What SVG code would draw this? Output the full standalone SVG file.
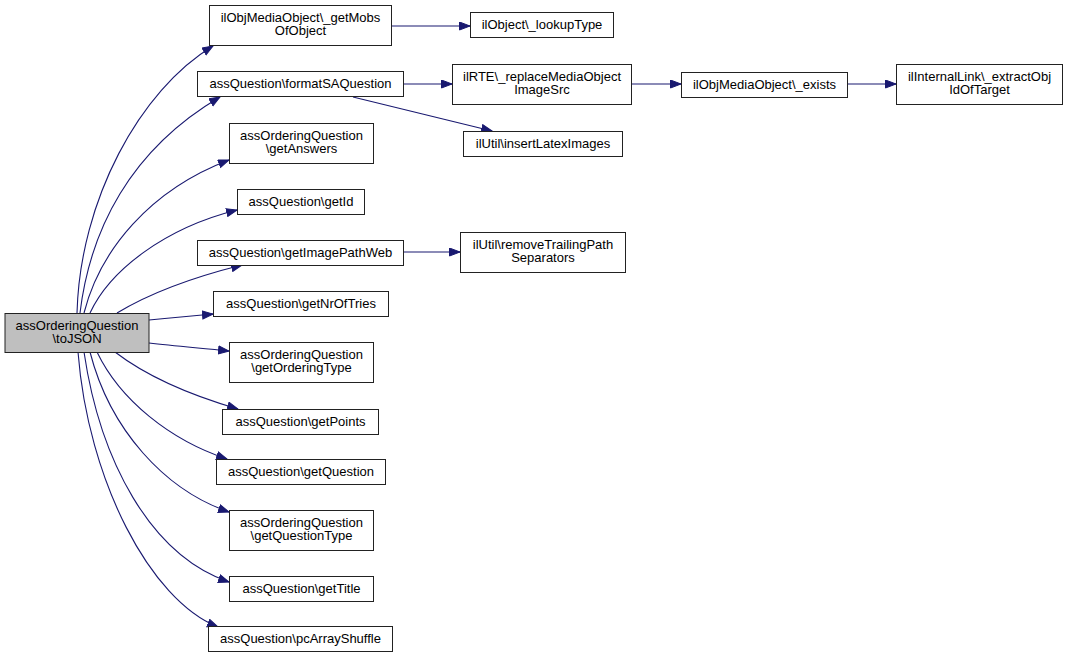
<svg xmlns="http://www.w3.org/2000/svg" width="1068" height="658" viewBox="0 0 1068 658">
<defs>
<style>
.n rect{fill:#fff;stroke:#222;stroke-width:1}
.n.root rect{fill:#bfbfbf}
.n text{font-family:"Liberation Sans",Arial,sans-serif;font-size:13px;fill:#000;text-anchor:middle}
.e path{fill:none;stroke:#191970;stroke-width:1.1;marker-end:url(#ah)}
</style>
<marker id="ah" markerUnits="userSpaceOnUse" markerWidth="13" markerHeight="10" refX="11" refY="4.5" orient="auto">
<path d="M0.5,0.5 L11,4.5 L0.5,8.5 z" fill="#191970" stroke="#191970" stroke-width="1"/>
</marker>
</defs>
<rect width="1068" height="658" fill="#fff"/>
<g class="e" id="edges">
<path d="M77,313 C80,200 140,90 213,46"/>
<path d="M80,313 C90,230 130,150 220,97"/>
<path d="M84,313 C100,250 150,190 229,160"/>
<path d="M90,313 C110,270 165,228 237,210"/>
<path d="M117,313 C150,293 190,278 242,265"/>
<path d="M149,320 C170,318 190,316 213,314"/>
<path d="M149,343 C175,346 200,348 229,351"/>
<path d="M115,352 C145,375 190,395 238,409"/>
<path d="M97,352 C120,400 170,440 227,459"/>
<path d="M90,352 C110,430 165,490 229,512"/>
<path d="M84,352 C100,460 150,555 229,582"/>
<path d="M78,352 C88,480 150,600 218,627"/>
<path d="M392,26 L470,26"/>
<path d="M404,84 L452,84"/>
<path d="M353,97 L492,131"/>
<path d="M632,84 L681,84"/>
<path d="M848,84 L896,84"/>
<path d="M404,252 L460,252"/>
</g>
<g class="n root" id="n0"><rect x="5" y="313.5" width="144" height="39"/><text x="77" y="329.5">assOrderingQuestion</text><text x="77" y="342.5">\toJSON</text></g>
<g class="n" id="n1"><rect x="209.5" y="5.5" width="182" height="40"/><text x="300.5" y="22">ilObjMediaObject\_getMobs</text><text x="300.5" y="35">OfObject</text></g>
<g class="n" id="n2"><rect x="470.5" y="12.5" width="143" height="25"/><text x="542" y="29">ilObject\_lookupType</text></g>
<g class="n" id="n3"><rect x="197.5" y="71.5" width="206" height="25"/><text x="300.5" y="88">assQuestion\formatSAQuestion</text></g>
<g class="n" id="n4"><rect x="452.5" y="64.5" width="179" height="40"/><text x="542" y="81">ilRTE\_replaceMediaObject</text><text x="542" y="94">ImageSrc</text></g>
<g class="n" id="n5"><rect x="681.5" y="72.5" width="166" height="25"/><text x="764.5" y="89">ilObjMediaObject\_exists</text></g>
<g class="n" id="n6"><rect x="896.5" y="64.5" width="166" height="40"/><text x="979.5" y="81">ilInternalLink\_extractObj</text><text x="979.5" y="94">IdOfTarget</text></g>
<g class="n" id="n7"><rect x="463.5" y="131.5" width="159" height="25"/><text x="543" y="148">ilUtil\insertLatexImages</text></g>
<g class="n" id="n8"><rect x="229.5" y="123.5" width="144" height="40"/><text x="301.5" y="140">assOrderingQuestion</text><text x="301.5" y="153">\getAnswers</text></g>
<g class="n" id="n9"><rect x="237.5" y="189.5" width="127" height="25"/><text x="301" y="206">assQuestion\getId</text></g>
<g class="n" id="n10"><rect x="197.5" y="240.5" width="206" height="25"/><text x="300.5" y="257">assQuestion\getImagePathWeb</text></g>
<g class="n" id="n11"><rect x="460.5" y="232.5" width="165" height="40"/><text x="543" y="249">ilUtil\removeTrailingPath</text><text x="543" y="262">Separators</text></g>
<g class="n" id="n12"><rect x="213.5" y="291.5" width="175" height="25"/><text x="301" y="308">assQuestion\getNrOfTries</text></g>
<g class="n" id="n13"><rect x="229.5" y="342.5" width="144" height="40"/><text x="301.5" y="359">assOrderingQuestion</text><text x="301.5" y="372">\getOrderingType</text></g>
<g class="n" id="n14"><rect x="222.5" y="409.5" width="156" height="25"/><text x="300.5" y="426">assQuestion\getPoints</text></g>
<g class="n" id="n15"><rect x="216.5" y="459.5" width="169" height="25"/><text x="301" y="476">assQuestion\getQuestion</text></g>
<g class="n" id="n16"><rect x="229.5" y="510.5" width="144" height="40"/><text x="301.5" y="527">assOrderingQuestion</text><text x="301.5" y="540">\getQuestionType</text></g>
<g class="n" id="n17"><rect x="229.5" y="576.5" width="144" height="25"/><text x="301.5" y="593">assQuestion\getTitle</text></g>
<g class="n" id="n18"><rect x="208.5" y="626.5" width="184" height="25"/><text x="300.5" y="643">assQuestion\pcArrayShuffle</text></g>
</svg>
